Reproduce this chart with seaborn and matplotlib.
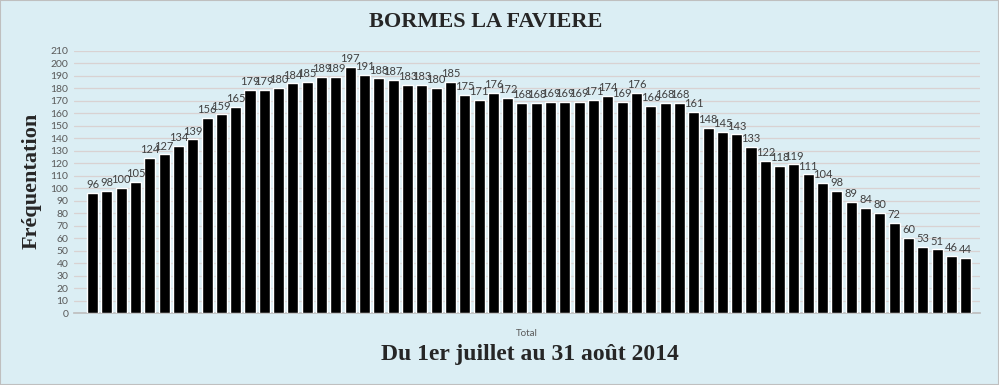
import pandas as pd
import matplotlib
matplotlib.use("Agg")
import matplotlib.pyplot as plt
import seaborn as sns
from matplotlib.patches import Rectangle

# --- Data: daily visits, 1 July - 31 August 2014 ---
DAYS = [f"{d} juil." for d in range(1, 32)] + [f"{d} août" for d in range(1, 32)]
VISITS = [96, 98, 100, 105, 124, 127, 134, 139, 156, 159, 165,
          179, 179, 180, 184, 185, 189, 189, 197, 191, 188, 187,
          183, 183, 180, 185, 175, 171, 176, 172, 168, 168, 169,
          169, 169, 171, 174, 169, 176, 166, 168, 168, 161, 148,
          145, 143, 133, 122, 118, 119, 111, 104, 98, 89, 84,
          80, 72, 60, 53, 51, 46, 44]
Y_TICKS = list(range(0, 211, 10))
TITLE = "BORMES LA FAVIERE"
Y_LABEL = "Fréquentation"
X_CATEGORY = "Total"
SUBTITLE = "Du 1er juillet au 31 août 2014"

BG = "#DBEEF4"

df = pd.DataFrame({"jour": DAYS, "visites": VISITS})

sns.set_theme(style="white")
plt.rcParams["font.family"] = ["Lato", "DejaVu Sans"]

fig = plt.figure(figsize=(9.99, 3.85), dpi=100, facecolor=BG)
ax = fig.add_axes([0.074, 0.187, 0.907, 0.681])
ax.set_facecolor(BG)

sns.barplot(data=df, x="jour", y="visites", color="black", width=0.77,
            saturation=1, ax=ax, zorder=3)

# labels overlap on the crowded plateau, as in the original chart
for cont in ax.containers:
    ax.bar_label(cont, labels=[str(v) for v in VISITS], padding=2,
                 fontsize=8, color="#404040")

ax.set_ylim(0, 210)
ax.set_xlim(-1.3, 62.0)
ax.set_yticks(Y_TICKS)
ax.set_yticklabels([str(t) for t in Y_TICKS], fontsize=7.5, color="#595959")
ax.set_xticks([])
ax.grid(axis="y", color="#D9D2D2", linewidth=0.9, zorder=0)
ax.tick_params(axis="y", length=0, pad=4)
for side in ["top", "right", "left"]:
    ax.spines[side].set_visible(False)
ax.spines["bottom"].set_color("#BFBFBF")
ax.set_xlabel("")
ax.set_ylabel("")

# single category tick like the spreadsheet chart
ax.text(0.5, -0.08, X_CATEGORY, transform=ax.transAxes, ha="center", va="center",
        fontsize=7, color="#595959")

serif = ["Liberation Serif", "DejaVu Serif"]
fig.text(0.486, 0.943, TITLE, ha="center", va="center", fontsize=16,
         fontweight="bold", family=serif)
fig.text(0.032, 0.53, Y_LABEL, ha="center", va="center", rotation=90,
         fontsize=16, fontweight="bold", family=serif)
fig.text(0.53, 0.078, SUBTITLE, ha="center", va="center", fontsize=17,
         fontweight="bold", family=serif)

fig.patches.append(Rectangle((0, 0), 1, 1, transform=fig.transFigure,
                             fill=False, edgecolor="#BFBFBF", linewidth=1.5))

fig.savefig("out.png", dpi=100, facecolor=BG)
